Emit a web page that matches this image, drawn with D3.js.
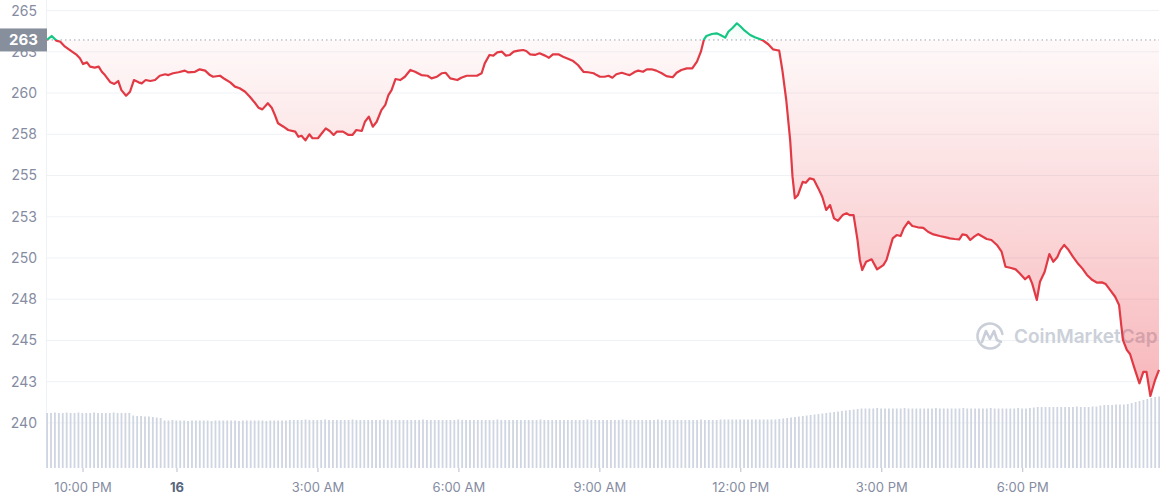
<!DOCTYPE html>
<html>
<head>
<meta charset="utf-8">
<script src="https://cdn.jsdelivr.net/npm/d3@7"></script>
<style>
  html, body { margin: 0; padding: 0; background: #fff; }
  svg { display: block; font-family: Inter, "Noto Sans", Arial, sans-serif; }
</style>
</head>
<body>
<svg id="chart" width="1161" height="500"></svg>
<script>
// ---- DATA ----
// price samples: minutes after 21:00 on the 15th, and price (USD)
const priceMinutes = [14,20,26,31,37,46,52,56,60,65,69,75,80,84,88,95,100,105,109,115,120,125,131,135,140,146,152,158,165,169,175,182,190,194,203,209,216,222,226,235,241,248,254,260,267,273,280,284,289,296,301,305,309,316,322,331,335,339,344,349,353,360,365,370,375,380,384,392,399,404,409,416,420,425,430,435,441,446,450,454,459,465,471,478,484,492,500,505,512,518,523,529,538,543,550,556,563,569,573,579,584,589,595,600,605,610,616,622,626,631,637,643,650,655,660,667,673,680,686,692,699,705,712,716,720,726,731,736,741,748,754,758,765,769,775,780,786,792,799,805,813,818,824,831,838,844,849,853,856,863,869,874,880,884,889,895,900,905,912,918,924,929,935,941,945,949,953,958,963,966,969,973,979,983,988,993,999,1004,1009,1014,1019,1024,1030,1035,1039,1044,1049,1052,1055,1060,1067,1074,1082,1086,1094,1099,1104,1108,1114,1119,1126,1133,1139,1146,1154,1162,1167,1173,1179,1183,1188,1193,1198,1203,1209,1214,1220,1227,1233,1238,1244,1251,1256,1263,1268,1272,1278,1282,1288,1294,1299,1304,1308,1313,1318,1324,1331,1336,1342,1349,1355,1361,1366,1371,1378,1383,1386,1388,1393,1397,1402,1409,1414,1418,1423,1429,1434];
const prices = [263.22,263.46,263.18,263.11,262.81,262.51,262.31,262.11,261.76,261.86,261.60,261.54,261.60,261.29,261.09,260.65,260.55,260.73,260.18,259.84,260.08,260.79,260.65,260.59,260.79,260.73,260.79,261.05,261.14,261.09,261.20,261.26,261.36,261.26,261.29,261.44,261.36,261.09,260.99,261.05,260.85,260.65,260.39,260.29,260.08,259.78,259.38,259.11,259.01,259.38,259.11,258.67,258.17,257.96,257.76,257.66,257.35,257.41,257.13,257.50,257.26,257.26,257.56,257.86,257.70,257.46,257.66,257.66,257.46,257.46,257.76,257.70,258.26,258.57,257.96,258.26,258.97,259.28,259.88,260.18,260.85,260.79,260.99,261.40,261.29,261.09,261.05,260.89,260.99,261.20,261.23,260.89,260.79,260.93,261.05,261.05,261.05,261.20,261.80,262.31,262.27,262.47,262.51,262.27,262.31,262.51,262.57,262.61,262.55,262.35,262.31,262.41,262.27,262.14,262.35,262.35,262.20,262.07,261.94,261.70,261.29,261.26,261.20,261.09,260.99,260.99,261.05,260.93,261.14,261.23,261.14,261.09,261.29,261.36,261.29,261.44,261.44,261.36,261.20,261.03,260.96,261.23,261.40,261.50,261.50,261.90,262.51,263.26,263.46,263.58,263.62,263.52,263.36,263.72,263.93,264.23,264.02,263.78,263.52,263.38,263.28,263.17,262.96,262.65,262.61,262.57,261.40,259.58,257.15,254.93,253.62,253.82,254.62,254.56,254.83,254.77,254.22,253.71,252.91,253.21,252.40,252.26,252.60,252.71,252.60,252.60,251.09,249.88,249.27,249.77,249.92,249.31,249.57,249.88,251.19,251.39,251.33,251.80,252.20,251.94,251.86,251.83,251.59,251.43,251.33,251.25,251.19,251.15,251.13,251.43,251.39,251.09,251.29,251.45,251.29,251.15,251.09,250.79,250.38,249.47,249.41,249.31,249.07,248.71,248.91,248.46,247.45,248.56,249.17,250.24,249.77,250.04,250.48,250.79,250.52,250.08,249.63,249.37,248.97,248.66,248.50,248.52,248.42,248.10,247.65,247.15,245.83,245.02,244.42,244.18,243.41,242.40,243.10,243.10,241.63,242.60,243.21];

// volume bars, one per 5 minutes from the first sample (billions USD)
const volumes = [
  1.10,1.10,1.11,1.10,1.10,1.11,1.10,1.10,1.11,1.10,1.10,1.10,1.11,1.10,1.10,1.10,1.10,1.11,1.10,1.10,1.10,1.10,
  1.05,1.04,1.04,1.03,1.03,1.02,1.01,1.00,
  0.95,0.95,0.96,0.95,0.95,0.95,0.94,0.95,0.95,0.95,0.95,0.95,0.94,0.95,0.95,0.95,0.95,0.95,0.95,0.94,0.95,0.95,0.95,0.95,0.95,0.95,0.94,0.95,0.95,0.95,0.95,0.95,0.96,0.96,
  0.96,0.96,0.97,0.96,0.96,0.96,0.96,0.97,0.96,0.96,0.96,0.96,0.96,0.96,0.97,0.96,0.96,0.96,0.96,0.96,0.96,0.96,0.97,0.96,0.96,0.96,0.96,0.96,0.96,0.96,0.96,0.96,0.97,0.96,0.96,0.96,
  0.96,0.96,0.96,0.96,0.96,0.97,0.96,0.96,0.96,0.96,0.96,0.96,0.96,0.96,0.96,0.97,0.96,0.96,0.96,0.96,0.96,0.96,0.96,0.96,0.96,0.96,0.97,0.96,0.96,0.96,0.96,0.96,0.96,0.96,0.96,0.96,
  0.96,0.96,0.97,0.96,0.96,0.96,0.96,0.96,0.96,0.96,0.96,0.97,0.96,0.96,0.96,0.96,0.96,0.96,0.96,0.96,0.97,0.96,0.96,0.96,0.96,0.96,0.96,0.96,0.96,0.96,0.96,0.97,0.96,0.96,0.96,0.96,
  0.97,0.97,0.97,0.97,0.97,0.97,0.97,0.97,0.97,0.97,0.97,0.97,0.97,0.97,0.97,
  0.98,0.99,1.00,1.01,1.02,1.03,1.04,1.05,1.06,1.07,1.08,1.09,1.10,1.11,1.12,1.13,1.14,1.15,1.16,1.17,1.18,
  1.19,1.19,1.19,1.19,1.20,1.19,1.19,1.19,1.19,1.19,1.19,1.20,1.19,1.19,1.19,1.19,1.19,1.19,1.19,1.20,1.19,1.19,
  1.19,1.19,1.19,1.19,1.20,1.19,1.19,1.19,1.19,1.19,1.19,1.20,1.19,1.19,1.19,1.19,1.19,1.19,1.20,1.19,1.19,1.20,
  1.21,1.22,1.22,1.22,1.22,1.22,1.22,1.22,1.22,1.22,1.22,1.23,1.22,1.22,1.22,1.23,1.23,
  1.25,1.26,1.26,1.26,1.27,1.27,1.27,1.28,
  1.30,1.32,1.34,1.36,1.38,1.40,1.42,1.43
];

const yTicks = [240, 242.5, 245, 247.5, 250, 252.5, 255, 257.5, 260, 262.5, 265];
// x tick positions: minutes after 21:00 on the 15th
const xTickMinutes = [60, 180, 360, 540, 720, 900, 1080, 1260];

// ---- SETUP ----
const baseDate = new Date(2021, 11, 15, 21, 0, 0);
const toDate = m => new Date(baseDate.getTime() + m * 60000);

const W = 1161, H = 500;
const left = 47, right = 1159, volBottom = 468;
const svg = d3.select("#chart");

const x = d3.scaleTime()
  .domain([toDate(priceMinutes[0]), toDate(priceMinutes[priceMinutes.length - 1])])
  .range([left, right]);
const y = d3.scaleLinear().domain([240, 265]).range([422.9, 10.6]);
const yVol = d3.scaleLinear().domain([0, 1]).range([volBottom, 418]);

const data = d3.zip(priceMinutes, prices).map(([m, p]) => ({ t: toDate(m), p }));
const refPrice = prices[0];
const yRef = y(refPrice);

const red = "#e23a45", green = "#16c784", gridC = "#eff2f5", labelC = "#858ca2";

// defs
const defs = svg.append("defs");
const gradR = defs.append("linearGradient").attr("id", "gradRed")
  .attr("gradientUnits", "userSpaceOnUse").attr("x1", 0).attr("x2", 0)
  .attr("y1", yRef).attr("y2", y(242));
gradR.append("stop").attr("offset", 0).attr("stop-color", "#ea3943").attr("stop-opacity", 0.03);
gradR.append("stop").attr("offset", 1).attr("stop-color", "#ea3943").attr("stop-opacity", 0.36);
const gradG = defs.append("linearGradient").attr("id", "gradGreen")
  .attr("gradientUnits", "userSpaceOnUse").attr("x1", 0).attr("x2", 0)
  .attr("y1", yRef).attr("y2", y(265));
gradG.append("stop").attr("offset", 0).attr("stop-color", green).attr("stop-opacity", 0.02);
gradG.append("stop").attr("offset", 1).attr("stop-color", green).attr("stop-opacity", 0.1);

defs.append("clipPath").attr("id", "clipAbove").append("rect")
  .attr("x", 0).attr("y", 0).attr("width", W).attr("height", yRef);
defs.append("clipPath").attr("id", "clipBelow").append("rect")
  .attr("x", 0).attr("y", yRef).attr("width", W).attr("height", H - yRef);

// grid
svg.append("g").selectAll("line").data(yTicks).join("line")
  .attr("x1", left).attr("x2", right)
  .attr("y1", d => y(d)).attr("y2", d => y(d))
  .attr("stroke", gridC).attr("stroke-width", 1);
svg.append("line").attr("x1", left - 0.5).attr("x2", left - 0.5)
  .attr("y1", 0).attr("y2", volBottom).attr("stroke", gridC);

// watermark
const wm = svg.append("g").attr("transform", "translate(990,336)").attr("fill", "none")
  .attr("stroke", "#c9ced8").attr("stroke-width", 2.6).attr("stroke-linecap", "round").attr("stroke-linejoin", "round");
wm.append("path").attr("d", d3.arc()({ innerRadius: 12.5, outerRadius: 12.5, startAngle: 2.3, endAngle: 2.3 + 2 * Math.PI - 0.9 }));
wm.append("path").attr("d", "M-8,6 L-4,-5 L0,3 L4,-5 L7,4 L11,6");
svg.append("text").attr("x", 1014).attr("y", 343)
  .attr("font-size", 19).attr("font-weight", 600).attr("fill", "#cbd0d9")
  .text("CoinMarketCap");

// volume bars
const volTimes = volumes.map((v, i) => toDate(priceMinutes[0] + i * 5));
svg.append("g").selectAll("rect").data(volumes).join("rect")
  .attr("x", (d, i) => x(volTimes[i]) - 0.8)
  .attr("width", 1.8)
  .attr("y", d => yVol(d))
  .attr("height", d => volBottom - yVol(d))
  .attr("fill", "#cfd5e1");

// area fills
const area = d3.area().x(d => x(d.t)).y0(yRef).y1(d => y(d.p));
svg.append("path").datum(data).attr("d", area).attr("fill", "url(#gradRed)").attr("clip-path", "url(#clipBelow)");
svg.append("path").datum(data).attr("d", area).attr("fill", "url(#gradGreen)").attr("clip-path", "url(#clipAbove)");

// reference dotted line
svg.append("line").attr("x1", left).attr("x2", right).attr("y1", yRef).attr("y2", yRef)
  .attr("stroke", "#9aa1b1").attr("stroke-width", 1).attr("stroke-dasharray", "1.5,3");

// price line
const line = d3.line().x(d => x(d.t)).y(d => y(d.p));
svg.append("path").datum(data).attr("d", line).attr("fill", "none")
  .attr("stroke", red).attr("stroke-width", 2.2).attr("stroke-linejoin", "round").attr("clip-path", "url(#clipBelow)");
svg.append("path").datum(data).attr("d", line).attr("fill", "none")
  .attr("stroke", green).attr("stroke-width", 2.2).attr("stroke-linejoin", "round").attr("clip-path", "url(#clipAbove)");

// y labels (the 263 tick label sits partly under the current-price badge, as in the reference)
svg.append("g").selectAll("text").data(yTicks).join("text")
  .attr("x", 37).attr("y", d => y(d)).attr("dy", "0.35em")
  .attr("text-anchor", "end").attr("font-size", 14).attr("fill", labelC)
  .text(d => Math.round(d));

// current/reference label
svg.append("rect").attr("x", 0).attr("y", yRef - 11.5).attr("width", 47).attr("height", 23).attr("fill", "#878e9c");
svg.append("text").attr("x", 23.5).attr("y", yRef).attr("dy", "0.36em").attr("text-anchor", "middle")
  .attr("font-size", 15).attr("font-weight", 700).attr("fill", "#fff").text(Math.round(refPrice));

// x axis
const fmt = d3.timeFormat("%-I:%M %p");
const xTicks = xTickMinutes.map(toDate);
const xg = svg.append("g");
xg.selectAll("line").data(xTicks).join("line")
  .attr("x1", d => x(d)).attr("x2", d => x(d)).attr("y1", volBottom).attr("y2", volBottom + 4)
  .attr("stroke", "#b8bdc9");
xg.selectAll("text").data(xTicks).join("text")
  .attr("x", d => x(d)).attr("y", 487).attr("dy", "0.35em").attr("text-anchor", "middle")
  .attr("font-size", 13)
  .attr("font-weight", d => d.getHours() === 0 ? 700 : 400)
  .attr("fill", d => d.getHours() === 0 ? "#58667e" : labelC)
  .text(d => d.getHours() === 0 ? d3.timeFormat("%-d")(d) : fmt(d));
</script>
</body>
</html>
